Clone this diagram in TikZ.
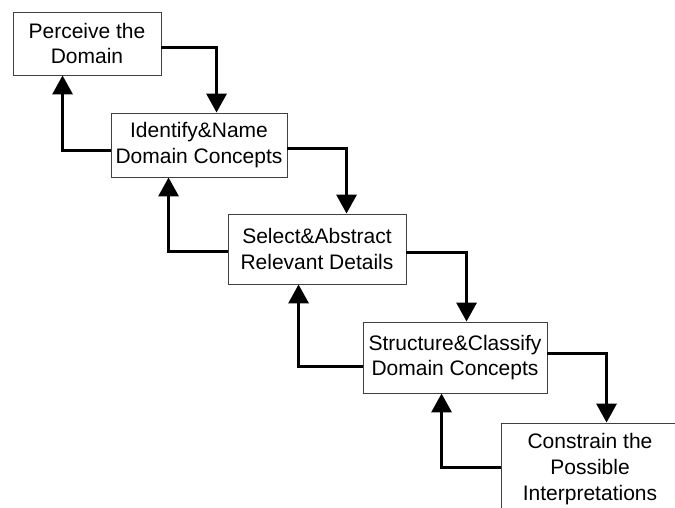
\documentclass[tikz,border=0pt]{standalone}
\usepackage{fontspec}
\setmainfont{Liberation Sans}
\usetikzlibrary{arrows.meta}
\begin{document}
\begin{tikzpicture}[x=1pt,y=-1pt,
  box/.style={draw=black!75, line width=0.9pt, fill=white, align=center, inner sep=0pt,
    font=\fontsize{21pt}{25.5pt}\selectfont},
  txt/.style={align=center, inner sep=0pt, font=\fontsize{21pt}{26pt}\selectfont},
  arr/.style={line width=3.3pt, -{Triangle[length=19pt,width=20pt]}}]
\useasboundingbox (0,0) rectangle (675,507);
\clip (0,0) rectangle (675,507);
\fill[white] (0,0) rectangle (675,507);
\node[box, minimum width=148pt, minimum height=63pt] (b1) at (87,43.5) {Perceive the\\Domain};
\node[box, minimum width=176pt, minimum height=64pt] (b2) at (199,145) {Identify\&Name\\Domain Concepts};
\node[box, minimum width=178pt, minimum height=70pt] (b3) at (317,249) {Select\&Abstract\\Relevant Details};
\node[box, minimum width=184pt, minimum height=71pt] (b4) at (455,357.5) {Structure\&Classify\\Domain Concepts};
\node[box, minimum width=179pt, minimum height=107pt] (b5) at (590.5,476.5) {};
\node[txt] (b5t) at (590,469) {Constrain the\\Possible\\Interpretations};
% forward arrows
\draw[arr] ([yshift=-36pt]b1.north east) -| ([xshift=106pt]b2.north west);
\draw[arr] ([yshift=-36pt]b2.north east) -| ([xshift=119pt]b3.north west);
\draw[arr] ([yshift=-39pt]b3.north east) -| ([xshift=104pt]b4.north west);
\draw[arr] ([yshift=-32pt]b4.north east) -| ([xshift=106pt]b5.north west);
% backward arrows
\draw[arr] ([yshift=-38pt]b2.north west) -| ([xshift=50pt]b1.south west);
\draw[arr] ([yshift=-38pt]b3.north west) -| ([xshift=58pt]b2.south west);
\draw[arr] ([yshift=-45pt]b4.north west) -| ([xshift=71pt]b3.south west);
\draw[arr] ([yshift=-45pt]b5.north west) -| ([xshift=79pt]b4.south west);
\end{tikzpicture}
\end{document}
